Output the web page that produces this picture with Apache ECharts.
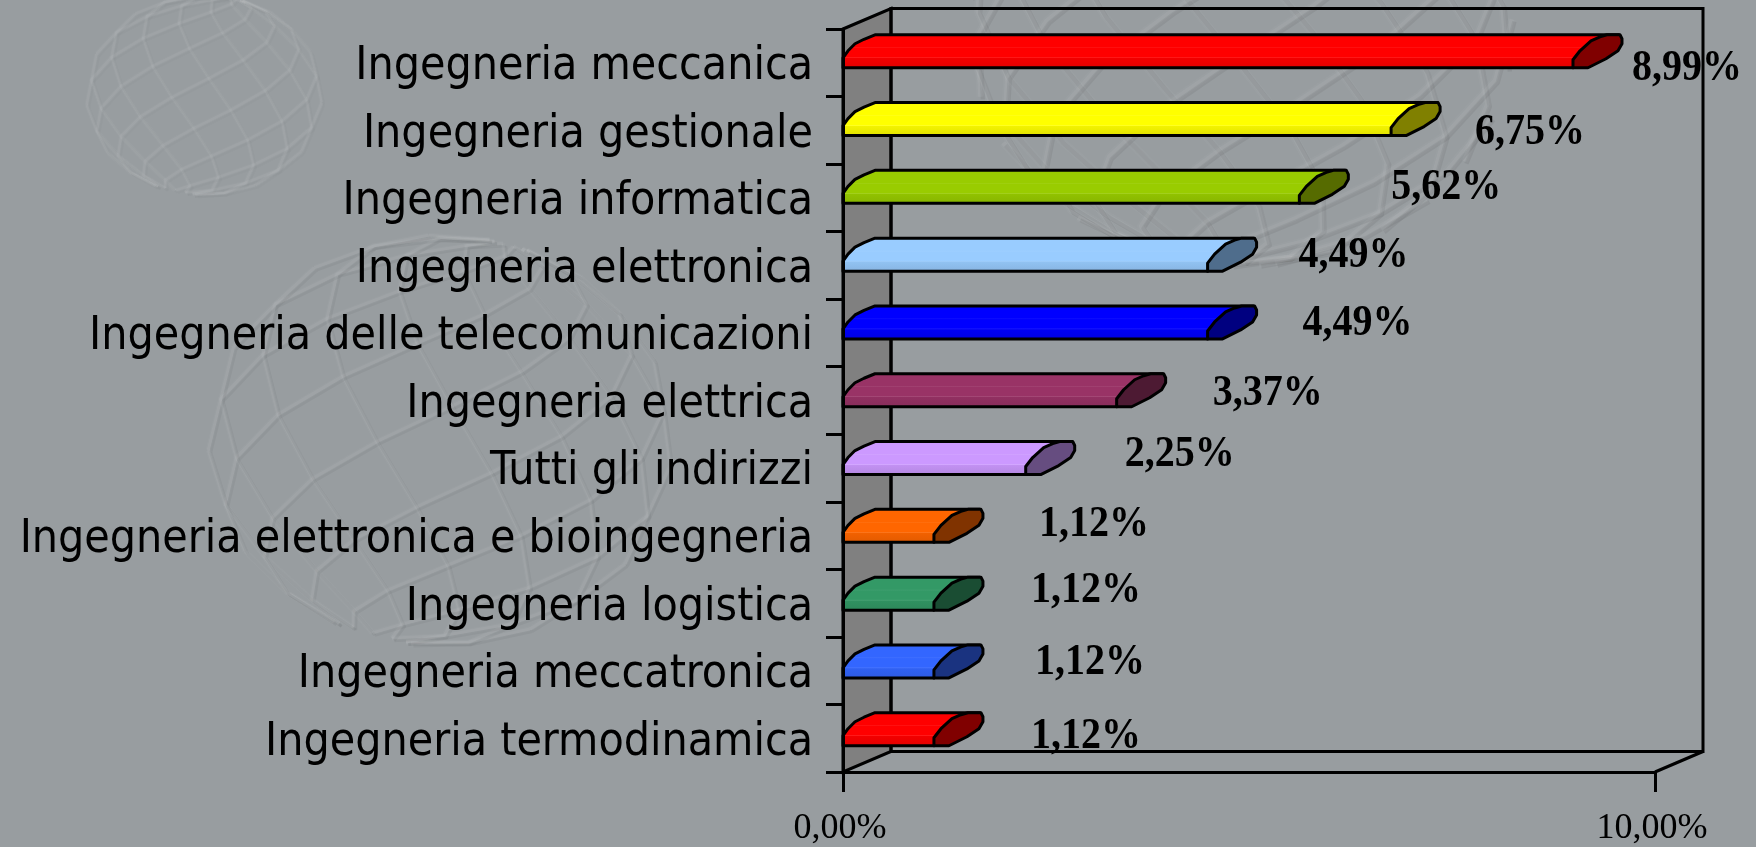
<!DOCTYPE html>
<html><head><meta charset="utf-8">
<style>html,body{margin:0;padding:0;background:#989da0}#c{width:1756px;height:847px}</style>
<script src="https://cdn.jsdelivr.net/npm/echarts@6/dist/echarts.min.js"></script>
</head><body><div id="c"></div>
<script>
const categories = ['Ingegneria meccanica','Ingegneria gestionale','Ingegneria informatica','Ingegneria elettronica','Ingegneria delle telecomunicazioni','Ingegneria elettrica','Tutti gli indirizzi','Ingegneria elettronica e bioingegneria','Ingegneria logistica','Ingegneria meccatronica','Ingegneria termodinamica'];
const values = [8.99,6.75,5.62,4.49,4.49,3.37,2.25,1.12,1.12,1.12,1.12];
const faceColors = ['#ff0000','#ffff00','#99cc00','#99ccff','#0000ff','#993366','#cc99ff','#ff6600','#339966','#3366ff','#ff0000'];
const capColors = ['#800000','#808000','#566b00','#4f6d8c','#000080','#4d1a33','#664d80','#803300','#1a4d33','#1a3380','#800000'];
const labelNudgeX = [114,139,147,146,150,151,154,160,152,156,152];
const labelNudgeY = [6,2,-10,-10,-10,-7,-14,-11,-13,-8,-2];
const fmt = v => v.toFixed(2).replace('.', ',') + '%';
const DX = 48, DY = -20.5, BAR_H = 33;

function shade(hex, k){
  const n = parseInt(hex.slice(1),16), c = [n>>16,(n>>8)&255,n&255];
  return 'rgb(' + c.map(x=>Math.round(x*k)).join(',') + ')';
}
function tint(hex, k){
  const n = parseInt(hex.slice(1),16), c = [n>>16,(n>>8)&255,n&255];
  return 'rgb(' + c.map(x=>Math.round(x+(255-x)*k)).join(',') + ')';
}
function faceFill(hex){
  return {type:'linear',x:0,y:0,x2:0,y2:1,colorStops:[
    {offset:0,color:shade(hex,.93)},{offset:.1,color:hex},{offset:.38,color:hex},
    {offset:.4,color:tint(hex,.08)},{offset:.42,color:hex},{offset:.66,color:hex},
    {offset:.68,color:tint(hex,.14)},{offset:.7,color:shade(hex,.95)},{offset:.9,color:shade(hex,.9)},{offset:1,color:shade(hex,.82)}]};
}

function renderFrame(params, api){
  const s = params.coordSys, L=s.x, T=s.y, R=s.x+s.width, B=s.y+s.height;
  const line = {stroke:'#000',lineWidth:3,fill:null};
  return {type:'group',silent:true,children:[
    {type:'polygon',shape:{points:[[L,T],[L+DX,T+DY],[L+DX,B+DY],[L,B]]},style:{fill:'#808080',stroke:'#000',lineWidth:3}},
    {type:'polyline',shape:{points:[[L+DX,B+DY],[L+DX,T+DY],[R+DX,T+DY],[R+DX,B+DY],[L+DX,B+DY]]},style:line},
    {type:'polyline',shape:{points:[[R,B],[R+DX,B+DY]]},style:line}
  ]};
}
function renderBar(params, api){
  const i = params.dataIndex, v = api.value(0);
  const p = api.coord([v, i]), x0 = api.coord([0, i])[0], x = p[0];
  const b = p[1] + 5 + i*0.25, t = b - BAR_H;
  const outline = {stroke:'#000',lineWidth:3,lineJoin:'round'};
  return {type:'group',children:[
    {type:'polygon',shape:{points:[[x0,b],[x0,b-10],[x0+5,b-17],[x0+12,b-24],[x0+21,b-28.5],[x0+32,t],[x+46,t],[x,b]]},
      style:Object.assign({fill:faceFill(faceColors[i])},outline)},
    {type:'polygon',shape:{points:[[x,b],[x,b-8],[x+7,b-17],[x+18,b-27],[x+27,b-31],[x+34,t],[x+47,t],[x+49,t+4],[x+49,t+9],[x+45,b-17],[x+33,b-9],[x+15,b]]},
      style:Object.assign({fill:capColors[i]},outline)},
    {type:'text',x:x+labelNudgeX[i],y:p[1]+labelNudgeY[i],scaleY:1.12,
      style:{x:0,y:0,text:fmt(v),fill:'#000',align:'center',verticalAlign:'middle',font:'bold 40px "Liberation Serif"'}}
  ]};
}

// faint wire-globe decoration of the slide background: a diamond mesh wrapped on a sphere
function globe(o){
  const out=[], D=Math.PI/180, cr=Math.cos(o.rot), sr=Math.sin(o.rot);
  const stroke=(pts)=>{
    if(pts.length<2) return;
    out.push({type:'polyline',silent:true,z:-10,shape:{points:pts.map(p=>[p[0]+2.5,p[1]+2.5])},style:{stroke:'#000',opacity:o.dark,lineWidth:o.w,fill:null,lineJoin:'round'}});
    out.push({type:'polyline',silent:true,z:-10,shape:{points:pts},style:{stroke:'#fff',opacity:o.light*.5,lineWidth:o.w*1.8,fill:null,lineJoin:'round'}});
    out.push({type:'polyline',silent:true,z:-10,shape:{points:pts},style:{stroke:'#fff',opacity:o.light,lineWidth:o.w,fill:null,lineJoin:'round'}});
  };
  const proj=(lat,lon)=>{
    const X=Math.cos(lat*D)*Math.sin(lon*D), Y=Math.sin(lat*D);
    return [o.cx+(X*cr-Y*sr)*o.rx, o.cy+(X*sr+Y*cr)*o.ry];
  };
  for(let c=-160;c<=160;c+=o.step){
    [1,-1].forEach(sign=>{
      const run=[];
      for(let lon=-90;lon<=90;lon+=15){
        const lat=sign*lon+c;
        if(Math.abs(lat)<=88) run.push(proj(lat,lon));
      }
      stroke(run);
    });
  }
  return out;
}
const decoration = [].concat(
  globe({cx:204,cy:95,rx:118,ry:100,rot:.25,step:30,light:.05,dark:.014,w:2.5}),
  globe({cx:440,cy:440,rx:232,ry:205,rot:.3,step:30,light:.05,dark:.045,w:3}),
  globe({cx:1240,cy:25,rx:272,ry:240,rot:.15,step:24,light:.05,dark:.06,w:4.5})
);

const chart = echarts.init(document.getElementById('c'));
chart.setOption({
  animation:false,
  backgroundColor:'#989da0',
  graphic:{elements:decoration},
  grid:{left:843,top:29,width:812,height:743,containLabel:false},
  xAxis:{type:'value',min:0,max:10,interval:10,z:5,
    axisLine:{show:true,lineStyle:{color:'#000',width:3}},
    axisTick:{show:true,length:20,lineStyle:{color:'#000',width:3}},
    splitLine:{show:false},
    axisLabel:{formatter:v=>fmt(v),color:'#000',fontFamily:'Liberation Serif',fontSize:36,margin:39,padding:[0,6,0,0],hideOverlap:false}},
  yAxis:{type:'category',inverse:true,data:categories,z:5,
    axisLine:{show:true,lineStyle:{color:'#000',width:3}},
    axisTick:{show:true,length:17,lineStyle:{color:'#000',width:3}},
    axisLabel:{color:'#000',fontFamily:'DejaVu Sans Condensed',fontSize:46,margin:30,interval:0,verticalAlign:'top',lineHeight:9}},
  series:[
    {type:'custom',name:'frame',z:1,silent:true,renderItem:renderFrame,data:[0],encode:{x:0}},
    {type:'custom',name:'share',z:3,renderItem:renderBar,data:values.map(v=>[v]),encode:{x:0}}
  ]
});
</script></body></html>
